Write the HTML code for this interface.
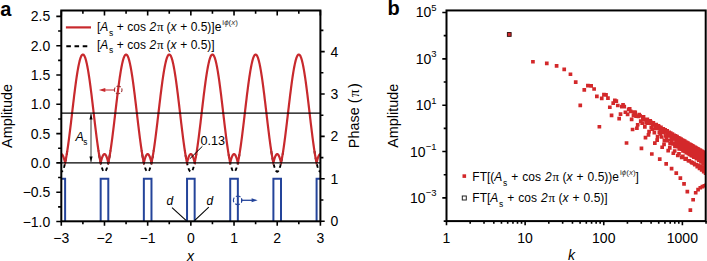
<!DOCTYPE html><html><head><meta charset="utf-8"><style>html,body{margin:0;padding:0;background:#fff;}svg{display:block;}text{font-family:'Liberation Sans', sans-serif;}</style></head><body>
<svg width="707" height="261" viewBox="0 0 707 261">
<rect width="707" height="261" fill="#fff"/>
<defs><clipPath id="ca"><rect x="61.3" y="10.5" width="259.09999999999997" height="210.8"/></clipPath><clipPath id="cb"><rect x="446.5" y="10.45" width="259.20000000000005" height="210.65"/></clipPath></defs>
<g clip-path="url(#ca)">
<path d="M55.25,150.44 L55.32,150.84 L55.38,151.24 L55.44,151.63 L55.50,152.02 L55.56,152.40 L55.62,152.78 L55.68,153.16 L55.74,153.54 L55.80,153.91 L55.86,154.28 L55.92,154.65 L55.98,155.01 L56.04,155.37 L56.10,155.73 L56.17,156.09 L56.23,156.44 L56.29,156.78 L56.35,157.13 L56.41,157.47 L56.47,157.80 L56.53,158.14 L56.59,158.47 L56.65,158.79 L56.71,159.11 L56.77,159.43 L56.83,159.75 L56.89,160.06 L56.96,160.37 L57.02,160.67 L57.08,160.97 L57.14,161.27 L57.20,161.56 L57.26,161.85 L57.32,162.14 L57.38,162.42 L57.44,162.70 L57.50,162.97 L57.56,163.24 L57.62,163.51 L57.68,163.77 L57.75,164.03 L57.81,164.28 L57.87,164.53 L57.93,164.78 L57.99,165.02 L58.05,165.26 L58.11,165.49 L58.17,165.72 L58.23,165.95 L58.29,166.17 L58.35,166.39 L58.41,166.60 L58.47,166.81 L58.54,167.01 L58.60,167.21 L58.66,167.41 L58.72,167.60 L58.78,167.79 L58.84,167.97 L58.90,168.15 L58.96,168.33 L59.02,168.50 L59.08,168.67 L59.14,168.83 L59.20,168.99 L59.26,169.14 L59.33,169.29 L59.39,169.43 L59.45,169.57 L59.51,169.71 L59.57,169.84 L59.63,169.97 L59.69,170.09 L59.75,170.21 L59.81,170.32 L59.87,170.43 L59.93,170.53 L59.99,170.63 L60.05,170.73 L60.12,170.82 L60.18,170.91 L60.24,170.99 L60.30,171.07 L60.36,171.14 L60.42,171.21 L60.48,171.27 L60.54,171.33 L60.60,171.39 L60.66,171.44 L60.72,171.48 L60.78,171.52 L60.84,171.56 L60.91,171.59 L60.97,171.62 L61.03,171.64 L61.09,171.66 L61.15,171.68 L61.21,171.68 L61.27,171.69 L61.33,171.69 L61.39,171.68 L61.45,171.68 L61.51,171.66 L61.57,171.64 L61.63,171.62 L61.69,171.59 L61.76,171.56 L61.82,171.52 L61.88,171.48 L61.94,171.44 L62.00,171.39 L62.06,171.33 L62.12,171.27 L62.18,171.21 L62.24,171.14 L62.30,171.07 L62.36,170.99 L62.42,170.91 L62.48,170.82 L62.55,170.73 L62.61,170.63 L62.67,170.53 L62.73,170.43 L62.79,170.32 L62.85,170.21 L62.91,170.09 L62.97,169.97 L63.03,169.84 L63.09,169.71 L63.15,169.57 L63.21,169.43 L63.27,169.29 L63.34,169.14 L63.40,168.99 L63.46,168.83 L63.52,168.67 L63.58,168.50 L63.64,168.33 L63.70,168.15 L63.76,167.97 L63.82,167.79 L63.88,167.60 L63.94,167.41 L64.00,167.21 L64.06,167.01 L64.13,166.81 L64.19,166.60 L64.25,166.39 L64.31,166.17 L64.37,165.95 L64.43,165.72 L64.49,165.49 L64.55,165.26 L64.61,165.02 L64.67,164.78 L64.73,164.53 L64.79,164.28 L64.85,164.03 L64.92,163.77 L64.98,163.51 L65.04,163.24 L65.10,162.97 L65.16,162.70 L65.22,162.42 L65.28,162.14 L65.34,161.85 L65.40,161.56 L65.46,161.27 L65.52,160.97 L65.58,160.67 L65.64,160.37 L65.71,160.06 L65.77,159.75 L65.83,159.43 L65.89,159.11 L65.95,158.79 L66.01,158.47 L66.07,158.14 L66.13,157.80 L66.19,157.47 L66.25,157.13 L66.31,156.78 L66.37,156.44 L66.43,156.09 L66.50,155.73 L66.56,155.37 L66.62,155.01 L66.68,154.65 L66.74,154.28 L66.80,153.91 L66.86,153.54 L66.92,153.16 L66.98,152.78 L67.04,152.40 L67.10,152.02 L67.16,151.63 L67.22,151.24 L67.28,150.84 L67.35,150.44" fill="none" stroke="#000" stroke-width="1.9" stroke-dasharray="3.7,3.0" stroke-dashoffset="6.08"/>
<path d="M98.44,150.44 L98.50,150.84 L98.56,151.24 L98.62,151.63 L98.68,152.02 L98.74,152.40 L98.80,152.78 L98.86,153.16 L98.92,153.54 L98.98,153.91 L99.05,154.28 L99.11,154.65 L99.17,155.01 L99.23,155.37 L99.29,155.73 L99.35,156.09 L99.41,156.44 L99.47,156.78 L99.53,157.13 L99.59,157.47 L99.65,157.80 L99.71,158.14 L99.77,158.47 L99.84,158.79 L99.90,159.11 L99.96,159.43 L100.02,159.75 L100.08,160.06 L100.14,160.37 L100.20,160.67 L100.26,160.97 L100.32,161.27 L100.38,161.56 L100.44,161.85 L100.50,162.14 L100.56,162.42 L100.63,162.70 L100.69,162.97 L100.75,163.24 L100.81,163.51 L100.87,163.77 L100.93,164.03 L100.99,164.28 L101.05,164.53 L101.11,164.78 L101.17,165.02 L101.23,165.26 L101.29,165.49 L101.35,165.72 L101.41,165.95 L101.48,166.17 L101.54,166.39 L101.60,166.60 L101.66,166.81 L101.72,167.01 L101.78,167.21 L101.84,167.41 L101.90,167.60 L101.96,167.79 L102.02,167.97 L102.08,168.15 L102.14,168.33 L102.20,168.50 L102.27,168.67 L102.33,168.83 L102.39,168.99 L102.45,169.14 L102.51,169.29 L102.57,169.43 L102.63,169.57 L102.69,169.71 L102.75,169.84 L102.81,169.97 L102.87,170.09 L102.93,170.21 L102.99,170.32 L103.06,170.43 L103.12,170.53 L103.18,170.63 L103.24,170.73 L103.30,170.82 L103.36,170.91 L103.42,170.99 L103.48,171.07 L103.54,171.14 L103.60,171.21 L103.66,171.27 L103.72,171.33 L103.78,171.39 L103.85,171.44 L103.91,171.48 L103.97,171.52 L104.03,171.56 L104.09,171.59 L104.15,171.62 L104.21,171.64 L104.27,171.66 L104.33,171.68 L104.39,171.68 L104.45,171.69 L104.51,171.69 L104.57,171.68 L104.64,171.68 L104.70,171.66 L104.76,171.64 L104.82,171.62 L104.88,171.59 L104.94,171.56 L105.00,171.52 L105.06,171.48 L105.12,171.44 L105.18,171.39 L105.24,171.33 L105.30,171.27 L105.36,171.21 L105.43,171.14 L105.49,171.07 L105.55,170.99 L105.61,170.91 L105.67,170.82 L105.73,170.73 L105.79,170.63 L105.85,170.53 L105.91,170.43 L105.97,170.32 L106.03,170.21 L106.09,170.09 L106.15,169.97 L106.22,169.84 L106.28,169.71 L106.34,169.57 L106.40,169.43 L106.46,169.29 L106.52,169.14 L106.58,168.99 L106.64,168.83 L106.70,168.67 L106.76,168.50 L106.82,168.33 L106.88,168.15 L106.94,167.97 L107.00,167.79 L107.07,167.60 L107.13,167.41 L107.19,167.21 L107.25,167.01 L107.31,166.81 L107.37,166.60 L107.43,166.39 L107.49,166.17 L107.55,165.95 L107.61,165.72 L107.67,165.49 L107.73,165.26 L107.79,165.02 L107.86,164.78 L107.92,164.53 L107.98,164.28 L108.04,164.03 L108.10,163.77 L108.16,163.51 L108.22,163.24 L108.28,162.97 L108.34,162.70 L108.40,162.42 L108.46,162.14 L108.52,161.85 L108.58,161.56 L108.65,161.27 L108.71,160.97 L108.77,160.67 L108.83,160.37 L108.89,160.06 L108.95,159.75 L109.01,159.43 L109.07,159.11 L109.13,158.79 L109.19,158.47 L109.25,158.14 L109.31,157.80 L109.37,157.47 L109.44,157.13 L109.50,156.78 L109.56,156.44 L109.62,156.09 L109.68,155.73 L109.74,155.37 L109.80,155.01 L109.86,154.65 L109.92,154.28 L109.98,153.91 L110.04,153.54 L110.10,153.16 L110.16,152.78 L110.23,152.40 L110.29,152.02 L110.35,151.63 L110.41,151.24 L110.47,150.84 L110.53,150.44" fill="none" stroke="#000" stroke-width="1.9" stroke-dasharray="3.7,3.0" stroke-dashoffset="2.73"/>
<path d="M141.62,150.44 L141.68,150.84 L141.74,151.24 L141.80,151.63 L141.86,152.02 L141.92,152.40 L141.99,152.78 L142.05,153.16 L142.11,153.54 L142.17,153.91 L142.23,154.28 L142.29,154.65 L142.35,155.01 L142.41,155.37 L142.47,155.73 L142.53,156.09 L142.59,156.44 L142.65,156.78 L142.71,157.13 L142.78,157.47 L142.84,157.80 L142.90,158.14 L142.96,158.47 L143.02,158.79 L143.08,159.11 L143.14,159.43 L143.20,159.75 L143.26,160.06 L143.32,160.37 L143.38,160.67 L143.44,160.97 L143.50,161.27 L143.57,161.56 L143.63,161.85 L143.69,162.14 L143.75,162.42 L143.81,162.70 L143.87,162.97 L143.93,163.24 L143.99,163.51 L144.05,163.77 L144.11,164.03 L144.17,164.28 L144.23,164.53 L144.29,164.78 L144.36,165.02 L144.42,165.26 L144.48,165.49 L144.54,165.72 L144.60,165.95 L144.66,166.17 L144.72,166.39 L144.78,166.60 L144.84,166.81 L144.90,167.01 L144.96,167.21 L145.02,167.41 L145.08,167.60 L145.15,167.79 L145.21,167.97 L145.27,168.15 L145.33,168.33 L145.39,168.50 L145.45,168.67 L145.51,168.83 L145.57,168.99 L145.63,169.14 L145.69,169.29 L145.75,169.43 L145.81,169.57 L145.87,169.71 L145.93,169.84 L146.00,169.97 L146.06,170.09 L146.12,170.21 L146.18,170.32 L146.24,170.43 L146.30,170.53 L146.36,170.63 L146.42,170.73 L146.48,170.82 L146.54,170.91 L146.60,170.99 L146.66,171.07 L146.72,171.14 L146.79,171.21 L146.85,171.27 L146.91,171.33 L146.97,171.39 L147.03,171.44 L147.09,171.48 L147.15,171.52 L147.21,171.56 L147.27,171.59 L147.33,171.62 L147.39,171.64 L147.45,171.66 L147.51,171.68 L147.58,171.68 L147.64,171.69 L147.70,171.69 L147.76,171.68 L147.82,171.68 L147.88,171.66 L147.94,171.64 L148.00,171.62 L148.06,171.59 L148.12,171.56 L148.18,171.52 L148.24,171.48 L148.30,171.44 L148.37,171.39 L148.43,171.33 L148.49,171.27 L148.55,171.21 L148.61,171.14 L148.67,171.07 L148.73,170.99 L148.79,170.91 L148.85,170.82 L148.91,170.73 L148.97,170.63 L149.03,170.53 L149.09,170.43 L149.16,170.32 L149.22,170.21 L149.28,170.09 L149.34,169.97 L149.40,169.84 L149.46,169.71 L149.52,169.57 L149.58,169.43 L149.64,169.29 L149.70,169.14 L149.76,168.99 L149.82,168.83 L149.88,168.67 L149.95,168.50 L150.01,168.33 L150.07,168.15 L150.13,167.97 L150.19,167.79 L150.25,167.60 L150.31,167.41 L150.37,167.21 L150.43,167.01 L150.49,166.81 L150.55,166.60 L150.61,166.39 L150.67,166.17 L150.74,165.95 L150.80,165.72 L150.86,165.49 L150.92,165.26 L150.98,165.02 L151.04,164.78 L151.10,164.53 L151.16,164.28 L151.22,164.03 L151.28,163.77 L151.34,163.51 L151.40,163.24 L151.46,162.97 L151.52,162.70 L151.59,162.42 L151.65,162.14 L151.71,161.85 L151.77,161.56 L151.83,161.27 L151.89,160.97 L151.95,160.67 L152.01,160.37 L152.07,160.06 L152.13,159.75 L152.19,159.43 L152.25,159.11 L152.31,158.79 L152.38,158.47 L152.44,158.14 L152.50,157.80 L152.56,157.47 L152.62,157.13 L152.68,156.78 L152.74,156.44 L152.80,156.09 L152.86,155.73 L152.92,155.37 L152.98,155.01 L153.04,154.65 L153.10,154.28 L153.17,153.91 L153.23,153.54 L153.29,153.16 L153.35,152.78 L153.41,152.40 L153.47,152.02 L153.53,151.63 L153.59,151.24 L153.65,150.84 L153.71,150.44" fill="none" stroke="#000" stroke-width="1.9" stroke-dasharray="3.7,3.0" stroke-dashoffset="2.73"/>
<path d="M184.80,150.44 L184.87,150.84 L184.93,151.24 L184.99,151.63 L185.05,152.02 L185.11,152.40 L185.17,152.78 L185.23,153.16 L185.29,153.54 L185.35,153.91 L185.41,154.28 L185.47,154.65 L185.53,155.01 L185.59,155.37 L185.65,155.73 L185.72,156.09 L185.78,156.44 L185.84,156.78 L185.90,157.13 L185.96,157.47 L186.02,157.80 L186.08,158.14 L186.14,158.47 L186.20,158.79 L186.26,159.11 L186.32,159.43 L186.38,159.75 L186.44,160.06 L186.51,160.37 L186.57,160.67 L186.63,160.97 L186.69,161.27 L186.75,161.56 L186.81,161.85 L186.87,162.14 L186.93,162.42 L186.99,162.70 L187.05,162.97 L187.11,163.24 L187.17,163.51 L187.23,163.77 L187.30,164.03 L187.36,164.28 L187.42,164.53 L187.48,164.78 L187.54,165.02 L187.60,165.26 L187.66,165.49 L187.72,165.72 L187.78,165.95 L187.84,166.17 L187.90,166.39 L187.96,166.60 L188.02,166.81 L188.09,167.01 L188.15,167.21 L188.21,167.41 L188.27,167.60 L188.33,167.79 L188.39,167.97 L188.45,168.15 L188.51,168.33 L188.57,168.50 L188.63,168.67 L188.69,168.83 L188.75,168.99 L188.81,169.14 L188.88,169.29 L188.94,169.43 L189.00,169.57 L189.06,169.71 L189.12,169.84 L189.18,169.97 L189.24,170.09 L189.30,170.21 L189.36,170.32 L189.42,170.43 L189.48,170.53 L189.54,170.63 L189.60,170.73 L189.67,170.82 L189.73,170.91 L189.79,170.99 L189.85,171.07 L189.91,171.14 L189.97,171.21 L190.03,171.27 L190.09,171.33 L190.15,171.39 L190.21,171.44 L190.27,171.48 L190.33,171.52 L190.39,171.56 L190.46,171.59 L190.52,171.62 L190.58,171.64 L190.64,171.66 L190.70,171.68 L190.76,171.68 L190.82,171.69 L190.88,171.69 L190.94,171.68 L191.00,171.68 L191.06,171.66 L191.12,171.64 L191.18,171.62 L191.24,171.59 L191.31,171.56 L191.37,171.52 L191.43,171.48 L191.49,171.44 L191.55,171.39 L191.61,171.33 L191.67,171.27 L191.73,171.21 L191.79,171.14 L191.85,171.07 L191.91,170.99 L191.97,170.91 L192.03,170.82 L192.10,170.73 L192.16,170.63 L192.22,170.53 L192.28,170.43 L192.34,170.32 L192.40,170.21 L192.46,170.09 L192.52,169.97 L192.58,169.84 L192.64,169.71 L192.70,169.57 L192.76,169.43 L192.82,169.29 L192.89,169.14 L192.95,168.99 L193.01,168.83 L193.07,168.67 L193.13,168.50 L193.19,168.33 L193.25,168.15 L193.31,167.97 L193.37,167.79 L193.43,167.60 L193.49,167.41 L193.55,167.21 L193.61,167.01 L193.68,166.81 L193.74,166.60 L193.80,166.39 L193.86,166.17 L193.92,165.95 L193.98,165.72 L194.04,165.49 L194.10,165.26 L194.16,165.02 L194.22,164.78 L194.28,164.53 L194.34,164.28 L194.40,164.03 L194.47,163.77 L194.53,163.51 L194.59,163.24 L194.65,162.97 L194.71,162.70 L194.77,162.42 L194.83,162.14 L194.89,161.85 L194.95,161.56 L195.01,161.27 L195.07,160.97 L195.13,160.67 L195.19,160.37 L195.26,160.06 L195.32,159.75 L195.38,159.43 L195.44,159.11 L195.50,158.79 L195.56,158.47 L195.62,158.14 L195.68,157.80 L195.74,157.47 L195.80,157.13 L195.86,156.78 L195.92,156.44 L195.98,156.09 L196.05,155.73 L196.11,155.37 L196.17,155.01 L196.23,154.65 L196.29,154.28 L196.35,153.91 L196.41,153.54 L196.47,153.16 L196.53,152.78 L196.59,152.40 L196.65,152.02 L196.71,151.63 L196.77,151.24 L196.83,150.84 L196.90,150.44" fill="none" stroke="#000" stroke-width="1.9" stroke-dasharray="3.7,3.0" stroke-dashoffset="1.93"/>
<path d="M227.99,150.44 L228.05,150.84 L228.11,151.24 L228.17,151.63 L228.23,152.02 L228.29,152.40 L228.35,152.78 L228.41,153.16 L228.47,153.54 L228.53,153.91 L228.60,154.28 L228.66,154.65 L228.72,155.01 L228.78,155.37 L228.84,155.73 L228.90,156.09 L228.96,156.44 L229.02,156.78 L229.08,157.13 L229.14,157.47 L229.20,157.80 L229.26,158.14 L229.32,158.47 L229.39,158.79 L229.45,159.11 L229.51,159.43 L229.57,159.75 L229.63,160.06 L229.69,160.37 L229.75,160.67 L229.81,160.97 L229.87,161.27 L229.93,161.56 L229.99,161.85 L230.05,162.14 L230.11,162.42 L230.18,162.70 L230.24,162.97 L230.30,163.24 L230.36,163.51 L230.42,163.77 L230.48,164.03 L230.54,164.28 L230.60,164.53 L230.66,164.78 L230.72,165.02 L230.78,165.26 L230.84,165.49 L230.90,165.72 L230.96,165.95 L231.03,166.17 L231.09,166.39 L231.15,166.60 L231.21,166.81 L231.27,167.01 L231.33,167.21 L231.39,167.41 L231.45,167.60 L231.51,167.79 L231.57,167.97 L231.63,168.15 L231.69,168.33 L231.75,168.50 L231.82,168.67 L231.88,168.83 L231.94,168.99 L232.00,169.14 L232.06,169.29 L232.12,169.43 L232.18,169.57 L232.24,169.71 L232.30,169.84 L232.36,169.97 L232.42,170.09 L232.48,170.21 L232.54,170.32 L232.61,170.43 L232.67,170.53 L232.73,170.63 L232.79,170.73 L232.85,170.82 L232.91,170.91 L232.97,170.99 L233.03,171.07 L233.09,171.14 L233.15,171.21 L233.21,171.27 L233.27,171.33 L233.33,171.39 L233.40,171.44 L233.46,171.48 L233.52,171.52 L233.58,171.56 L233.64,171.59 L233.70,171.62 L233.76,171.64 L233.82,171.66 L233.88,171.68 L233.94,171.68 L234.00,171.69 L234.06,171.69 L234.12,171.68 L234.19,171.68 L234.25,171.66 L234.31,171.64 L234.37,171.62 L234.43,171.59 L234.49,171.56 L234.55,171.52 L234.61,171.48 L234.67,171.44 L234.73,171.39 L234.79,171.33 L234.85,171.27 L234.91,171.21 L234.98,171.14 L235.04,171.07 L235.10,170.99 L235.16,170.91 L235.22,170.82 L235.28,170.73 L235.34,170.63 L235.40,170.53 L235.46,170.43 L235.52,170.32 L235.58,170.21 L235.64,170.09 L235.70,169.97 L235.77,169.84 L235.83,169.71 L235.89,169.57 L235.95,169.43 L236.01,169.29 L236.07,169.14 L236.13,168.99 L236.19,168.83 L236.25,168.67 L236.31,168.50 L236.37,168.33 L236.43,168.15 L236.49,167.97 L236.55,167.79 L236.62,167.60 L236.68,167.41 L236.74,167.21 L236.80,167.01 L236.86,166.81 L236.92,166.60 L236.98,166.39 L237.04,166.17 L237.10,165.95 L237.16,165.72 L237.22,165.49 L237.28,165.26 L237.34,165.02 L237.41,164.78 L237.47,164.53 L237.53,164.28 L237.59,164.03 L237.65,163.77 L237.71,163.51 L237.77,163.24 L237.83,162.97 L237.89,162.70 L237.95,162.42 L238.01,162.14 L238.07,161.85 L238.13,161.56 L238.20,161.27 L238.26,160.97 L238.32,160.67 L238.38,160.37 L238.44,160.06 L238.50,159.75 L238.56,159.43 L238.62,159.11 L238.68,158.79 L238.74,158.47 L238.80,158.14 L238.86,157.80 L238.92,157.47 L238.99,157.13 L239.05,156.78 L239.11,156.44 L239.17,156.09 L239.23,155.73 L239.29,155.37 L239.35,155.01 L239.41,154.65 L239.47,154.28 L239.53,153.91 L239.59,153.54 L239.65,153.16 L239.71,152.78 L239.78,152.40 L239.84,152.02 L239.90,151.63 L239.96,151.24 L240.02,150.84 L240.08,150.44" fill="none" stroke="#000" stroke-width="1.9" stroke-dasharray="3.7,3.0" stroke-dashoffset="2.73"/>
<path d="M271.17,150.44 L271.23,150.84 L271.29,151.24 L271.35,151.63 L271.41,152.02 L271.47,152.40 L271.54,152.78 L271.60,153.16 L271.66,153.54 L271.72,153.91 L271.78,154.28 L271.84,154.65 L271.90,155.01 L271.96,155.37 L272.02,155.73 L272.08,156.09 L272.14,156.44 L272.20,156.78 L272.26,157.13 L272.33,157.47 L272.39,157.80 L272.45,158.14 L272.51,158.47 L272.57,158.79 L272.63,159.11 L272.69,159.43 L272.75,159.75 L272.81,160.06 L272.87,160.37 L272.93,160.67 L272.99,160.97 L273.05,161.27 L273.12,161.56 L273.18,161.85 L273.24,162.14 L273.30,162.42 L273.36,162.70 L273.42,162.97 L273.48,163.24 L273.54,163.51 L273.60,163.77 L273.66,164.03 L273.72,164.28 L273.78,164.53 L273.84,164.78 L273.91,165.02 L273.97,165.26 L274.03,165.49 L274.09,165.72 L274.15,165.95 L274.21,166.17 L274.27,166.39 L274.33,166.60 L274.39,166.81 L274.45,167.01 L274.51,167.21 L274.57,167.41 L274.63,167.60 L274.70,167.79 L274.76,167.97 L274.82,168.15 L274.88,168.33 L274.94,168.50 L275.00,168.67 L275.06,168.83 L275.12,168.99 L275.18,169.14 L275.24,169.29 L275.30,169.43 L275.36,169.57 L275.42,169.71 L275.48,169.84 L275.55,169.97 L275.61,170.09 L275.67,170.21 L275.73,170.32 L275.79,170.43 L275.85,170.53 L275.91,170.63 L275.97,170.73 L276.03,170.82 L276.09,170.91 L276.15,170.99 L276.21,171.07 L276.27,171.14 L276.34,171.21 L276.40,171.27 L276.46,171.33 L276.52,171.39 L276.58,171.44 L276.64,171.48 L276.70,171.52 L276.76,171.56 L276.82,171.59 L276.88,171.62 L276.94,171.64 L277.00,171.66 L277.06,171.68 L277.13,171.68 L277.19,171.69 L277.25,171.69 L277.31,171.68 L277.37,171.68 L277.43,171.66 L277.49,171.64 L277.55,171.62 L277.61,171.59 L277.67,171.56 L277.73,171.52 L277.79,171.48 L277.85,171.44 L277.92,171.39 L277.98,171.33 L278.04,171.27 L278.10,171.21 L278.16,171.14 L278.22,171.07 L278.28,170.99 L278.34,170.91 L278.40,170.82 L278.46,170.73 L278.52,170.63 L278.58,170.53 L278.64,170.43 L278.71,170.32 L278.77,170.21 L278.83,170.09 L278.89,169.97 L278.95,169.84 L279.01,169.71 L279.07,169.57 L279.13,169.43 L279.19,169.29 L279.25,169.14 L279.31,168.99 L279.37,168.83 L279.43,168.67 L279.50,168.50 L279.56,168.33 L279.62,168.15 L279.68,167.97 L279.74,167.79 L279.80,167.60 L279.86,167.41 L279.92,167.21 L279.98,167.01 L280.04,166.81 L280.10,166.60 L280.16,166.39 L280.22,166.17 L280.29,165.95 L280.35,165.72 L280.41,165.49 L280.47,165.26 L280.53,165.02 L280.59,164.78 L280.65,164.53 L280.71,164.28 L280.77,164.03 L280.83,163.77 L280.89,163.51 L280.95,163.24 L281.01,162.97 L281.07,162.70 L281.14,162.42 L281.20,162.14 L281.26,161.85 L281.32,161.56 L281.38,161.27 L281.44,160.97 L281.50,160.67 L281.56,160.37 L281.62,160.06 L281.68,159.75 L281.74,159.43 L281.80,159.11 L281.86,158.79 L281.93,158.47 L281.99,158.14 L282.05,157.80 L282.11,157.47 L282.17,157.13 L282.23,156.78 L282.29,156.44 L282.35,156.09 L282.41,155.73 L282.47,155.37 L282.53,155.01 L282.59,154.65 L282.65,154.28 L282.72,153.91 L282.78,153.54 L282.84,153.16 L282.90,152.78 L282.96,152.40 L283.02,152.02 L283.08,151.63 L283.14,151.24 L283.20,150.84 L283.26,150.44" fill="none" stroke="#000" stroke-width="1.9" stroke-dasharray="3.7,3.0" stroke-dashoffset="6.08"/>
<path d="M314.35,150.44 L314.42,150.84 L314.48,151.24 L314.54,151.63 L314.60,152.02 L314.66,152.40 L314.72,152.78 L314.78,153.16 L314.84,153.54 L314.90,153.91 L314.96,154.28 L315.02,154.65 L315.08,155.01 L315.14,155.37 L315.20,155.73 L315.27,156.09 L315.33,156.44 L315.39,156.78 L315.45,157.13 L315.51,157.47 L315.57,157.80 L315.63,158.14 L315.69,158.47 L315.75,158.79 L315.81,159.11 L315.87,159.43 L315.93,159.75 L315.99,160.06 L316.06,160.37 L316.12,160.67 L316.18,160.97 L316.24,161.27 L316.30,161.56 L316.36,161.85 L316.42,162.14 L316.48,162.42 L316.54,162.70 L316.60,162.97 L316.66,163.24 L316.72,163.51 L316.78,163.77 L316.85,164.03 L316.91,164.28 L316.97,164.53 L317.03,164.78 L317.09,165.02 L317.15,165.26 L317.21,165.49 L317.27,165.72 L317.33,165.95 L317.39,166.17 L317.45,166.39 L317.51,166.60 L317.57,166.81 L317.64,167.01 L317.70,167.21 L317.76,167.41 L317.82,167.60 L317.88,167.79 L317.94,167.97 L318.00,168.15 L318.06,168.33 L318.12,168.50 L318.18,168.67 L318.24,168.83 L318.30,168.99 L318.36,169.14 L318.43,169.29 L318.49,169.43 L318.55,169.57 L318.61,169.71 L318.67,169.84 L318.73,169.97 L318.79,170.09 L318.85,170.21 L318.91,170.32 L318.97,170.43 L319.03,170.53 L319.09,170.63 L319.15,170.73 L319.22,170.82 L319.28,170.91 L319.34,170.99 L319.40,171.07 L319.46,171.14 L319.52,171.21 L319.58,171.27 L319.64,171.33 L319.70,171.39 L319.76,171.44 L319.82,171.48 L319.88,171.52 L319.94,171.56 L320.01,171.59 L320.07,171.62 L320.13,171.64 L320.19,171.66 L320.25,171.68 L320.31,171.68 L320.37,171.69 L320.43,171.69 L320.49,171.68 L320.55,171.68 L320.61,171.66 L320.67,171.64 L320.73,171.62 L320.79,171.59 L320.86,171.56 L320.92,171.52 L320.98,171.48 L321.04,171.44 L321.10,171.39 L321.16,171.33 L321.22,171.27 L321.28,171.21 L321.34,171.14 L321.40,171.07 L321.46,170.99 L321.52,170.91 L321.58,170.82 L321.65,170.73 L321.71,170.63 L321.77,170.53 L321.83,170.43 L321.89,170.32 L321.95,170.21 L322.01,170.09 L322.07,169.97 L322.13,169.84 L322.19,169.71 L322.25,169.57 L322.31,169.43 L322.37,169.29 L322.44,169.14 L322.50,168.99 L322.56,168.83 L322.62,168.67 L322.68,168.50 L322.74,168.33 L322.80,168.15 L322.86,167.97 L322.92,167.79 L322.98,167.60 L323.04,167.41 L323.10,167.21 L323.16,167.01 L323.23,166.81 L323.29,166.60 L323.35,166.39 L323.41,166.17 L323.47,165.95 L323.53,165.72 L323.59,165.49 L323.65,165.26 L323.71,165.02 L323.77,164.78 L323.83,164.53 L323.89,164.28 L323.95,164.03 L324.02,163.77 L324.08,163.51 L324.14,163.24 L324.20,162.97 L324.26,162.70 L324.32,162.42 L324.38,162.14 L324.44,161.85 L324.50,161.56 L324.56,161.27 L324.62,160.97 L324.68,160.67 L324.74,160.37 L324.81,160.06 L324.87,159.75 L324.93,159.43 L324.99,159.11 L325.05,158.79 L325.11,158.47 L325.17,158.14 L325.23,157.80 L325.29,157.47 L325.35,157.13 L325.41,156.78 L325.47,156.44 L325.53,156.09 L325.60,155.73 L325.66,155.37 L325.72,155.01 L325.78,154.65 L325.84,154.28 L325.90,153.91 L325.96,153.54 L326.02,153.16 L326.08,152.78 L326.14,152.40 L326.20,152.02 L326.26,151.63 L326.32,151.24 L326.38,150.84 L326.45,150.44" fill="none" stroke="#000" stroke-width="1.9" stroke-dasharray="3.7,3.0" stroke-dashoffset="6.08"/>
<path d="M61.30,154.11 L61.52,154.14 L61.73,154.23 L61.95,154.37 L62.16,154.57 L62.38,154.83 L62.60,155.15 L62.81,155.52 L63.03,155.95 L63.24,156.44 L63.46,156.98 L63.68,157.57 L63.89,158.23 L64.11,158.93 L64.32,159.69 L64.54,160.50 L64.75,161.36 L64.97,162.27 L65.19,162.57 L65.40,161.56 L65.62,160.50 L65.83,159.39 L66.05,158.24 L66.27,157.05 L66.48,155.81 L66.70,154.53 L66.91,153.20 L67.13,151.84 L67.35,150.44 L67.56,149.01 L67.78,147.53 L67.99,146.03 L68.21,144.49 L68.43,142.92 L68.64,141.32 L68.86,139.69 L69.07,138.04 L69.29,136.36 L69.50,134.66 L69.72,132.94 L69.94,131.20 L70.15,129.44 L70.37,127.66 L70.58,125.87 L70.80,124.07 L71.02,122.26 L71.23,120.43 L71.45,118.60 L71.66,116.77 L71.88,114.93 L72.10,113.09 L72.31,111.25 L72.53,109.41 L72.74,107.58 L72.96,105.75 L73.18,103.92 L73.39,102.11 L73.61,100.31 L73.82,98.52 L74.04,96.74 L74.25,94.98 L74.47,93.24 L74.69,91.52 L74.90,89.82 L75.12,88.14 L75.33,86.49 L75.55,84.86 L75.77,83.26 L75.98,81.69 L76.20,80.15 L76.41,78.65 L76.63,77.17 L76.85,75.74 L77.06,74.34 L77.28,72.98 L77.49,71.65 L77.71,70.37 L77.93,69.13 L78.14,67.94 L78.36,66.79 L78.57,65.68 L78.79,64.62 L79.01,63.61 L79.22,62.65 L79.44,61.74 L79.65,60.88 L79.87,60.07 L80.08,59.31 L80.30,58.61 L80.52,57.95 L80.73,57.36 L80.95,56.82 L81.16,56.33 L81.38,55.90 L81.60,55.53 L81.81,55.21 L82.03,54.95 L82.24,54.75 L82.46,54.61 L82.68,54.52 L82.89,54.49 L83.11,54.52 L83.32,54.61 L83.54,54.75 L83.76,54.95 L83.97,55.21 L84.19,55.53 L84.40,55.90 L84.62,56.33 L84.83,56.82 L85.05,57.36 L85.27,57.95 L85.48,58.61 L85.70,59.31 L85.91,60.07 L86.13,60.88 L86.35,61.74 L86.56,62.65 L86.78,63.61 L86.99,64.62 L87.21,65.68 L87.43,66.79 L87.64,67.94 L87.86,69.13 L88.07,70.37 L88.29,71.65 L88.51,72.98 L88.72,74.34 L88.94,75.74 L89.15,77.17 L89.37,78.65 L89.59,80.15 L89.80,81.69 L90.02,83.26 L90.23,84.86 L90.45,86.49 L90.66,88.14 L90.88,89.82 L91.10,91.52 L91.31,93.24 L91.53,94.98 L91.74,96.74 L91.96,98.52 L92.18,100.31 L92.39,102.11 L92.61,103.92 L92.82,105.75 L93.04,107.58 L93.26,109.41 L93.47,111.25 L93.69,113.09 L93.90,114.93 L94.12,116.77 L94.34,118.60 L94.55,120.43 L94.77,122.26 L94.98,124.07 L95.20,125.87 L95.41,127.66 L95.63,129.44 L95.85,131.20 L96.06,132.94 L96.28,134.66 L96.49,136.36 L96.71,138.04 L96.93,139.69 L97.14,141.32 L97.36,142.92 L97.57,144.49 L97.79,146.03 L98.01,147.53 L98.22,149.01 L98.44,150.44 L98.65,151.84 L98.87,153.20 L99.09,154.53 L99.30,155.81 L99.52,157.05 L99.73,158.24 L99.95,159.39 L100.16,160.50 L100.38,161.56 L100.60,162.57 L100.81,162.27 L101.03,161.36 L101.24,160.50 L101.46,159.69 L101.68,158.93 L101.89,158.23 L102.11,157.57 L102.32,156.98 L102.54,156.44 L102.76,155.95 L102.97,155.52 L103.19,155.15 L103.40,154.83 L103.62,154.57 L103.84,154.37 L104.05,154.23 L104.27,154.14 L104.48,154.11 L104.70,154.14 L104.92,154.23 L105.13,154.37 L105.35,154.57 L105.56,154.83 L105.78,155.15 L105.99,155.52 L106.21,155.95 L106.43,156.44 L106.64,156.98 L106.86,157.57 L107.07,158.23 L107.29,158.93 L107.51,159.69 L107.72,160.50 L107.94,161.36 L108.15,162.27 L108.37,162.57 L108.59,161.56 L108.80,160.50 L109.02,159.39 L109.23,158.24 L109.45,157.05 L109.67,155.81 L109.88,154.53 L110.10,153.20 L110.31,151.84 L110.53,150.44 L110.74,149.01 L110.96,147.53 L111.18,146.03 L111.39,144.49 L111.61,142.92 L111.82,141.32 L112.04,139.69 L112.26,138.04 L112.47,136.36 L112.69,134.66 L112.90,132.94 L113.12,131.20 L113.34,129.44 L113.55,127.66 L113.77,125.87 L113.98,124.07 L114.20,122.26 L114.42,120.43 L114.63,118.60 L114.85,116.77 L115.06,114.93 L115.28,113.09 L115.50,111.25 L115.71,109.41 L115.93,107.58 L116.14,105.75 L116.36,103.92 L116.57,102.11 L116.79,100.31 L117.01,98.52 L117.22,96.74 L117.44,94.98 L117.65,93.24 L117.87,91.52 L118.09,89.82 L118.30,88.14 L118.52,86.49 L118.73,84.86 L118.95,83.26 L119.17,81.69 L119.38,80.15 L119.60,78.65 L119.81,77.17 L120.03,75.74 L120.25,74.34 L120.46,72.98 L120.68,71.65 L120.89,70.37 L121.11,69.13 L121.32,67.94 L121.54,66.79 L121.76,65.68 L121.97,64.62 L122.19,63.61 L122.40,62.65 L122.62,61.74 L122.84,60.88 L123.05,60.07 L123.27,59.31 L123.48,58.61 L123.70,57.95 L123.92,57.36 L124.13,56.82 L124.35,56.33 L124.56,55.90 L124.78,55.53 L125.00,55.21 L125.21,54.95 L125.43,54.75 L125.64,54.61 L125.86,54.52 L126.07,54.49 L126.29,54.52 L126.51,54.61 L126.72,54.75 L126.94,54.95 L127.15,55.21 L127.37,55.53 L127.59,55.90 L127.80,56.33 L128.02,56.82 L128.23,57.36 L128.45,57.95 L128.67,58.61 L128.88,59.31 L129.10,60.07 L129.31,60.88 L129.53,61.74 L129.75,62.65 L129.96,63.61 L130.18,64.62 L130.39,65.68 L130.61,66.79 L130.83,67.94 L131.04,69.13 L131.26,70.37 L131.47,71.65 L131.69,72.98 L131.90,74.34 L132.12,75.74 L132.34,77.17 L132.55,78.65 L132.77,80.15 L132.98,81.69 L133.20,83.26 L133.42,84.86 L133.63,86.49 L133.85,88.14 L134.06,89.82 L134.28,91.52 L134.50,93.24 L134.71,94.98 L134.93,96.74 L135.14,98.52 L135.36,100.31 L135.58,102.11 L135.79,103.92 L136.01,105.75 L136.22,107.58 L136.44,109.41 L136.65,111.25 L136.87,113.09 L137.09,114.93 L137.30,116.77 L137.52,118.60 L137.73,120.43 L137.95,122.26 L138.17,124.07 L138.38,125.87 L138.60,127.66 L138.81,129.44 L139.03,131.20 L139.25,132.94 L139.46,134.66 L139.68,136.36 L139.89,138.04 L140.11,139.69 L140.33,141.32 L140.54,142.92 L140.76,144.49 L140.97,146.03 L141.19,147.53 L141.41,149.01 L141.62,150.44 L141.84,151.84 L142.05,153.20 L142.27,154.53 L142.48,155.81 L142.70,157.05 L142.92,158.24 L143.13,159.39 L143.35,160.50 L143.56,161.56 L143.78,162.57 L144.00,162.27 L144.21,161.36 L144.43,160.50 L144.64,159.69 L144.86,158.93 L145.08,158.23 L145.29,157.57 L145.51,156.98 L145.72,156.44 L145.94,155.95 L146.16,155.52 L146.37,155.15 L146.59,154.83 L146.80,154.57 L147.02,154.37 L147.23,154.23 L147.45,154.14 L147.67,154.11 L147.88,154.14 L148.10,154.23 L148.31,154.37 L148.53,154.57 L148.75,154.83 L148.96,155.15 L149.18,155.52 L149.39,155.95 L149.61,156.44 L149.83,156.98 L150.04,157.57 L150.26,158.23 L150.47,158.93 L150.69,159.69 L150.91,160.50 L151.12,161.36 L151.34,162.27 L151.55,162.57 L151.77,161.56 L151.98,160.50 L152.20,159.39 L152.42,158.24 L152.63,157.05 L152.85,155.81 L153.06,154.53 L153.28,153.20 L153.50,151.84 L153.71,150.44 L153.93,149.01 L154.14,147.53 L154.36,146.03 L154.58,144.49 L154.79,142.92 L155.01,141.32 L155.22,139.69 L155.44,138.04 L155.66,136.36 L155.87,134.66 L156.09,132.94 L156.30,131.20 L156.52,129.44 L156.74,127.66 L156.95,125.87 L157.17,124.07 L157.38,122.26 L157.60,120.43 L157.81,118.60 L158.03,116.77 L158.25,114.93 L158.46,113.09 L158.68,111.25 L158.89,109.41 L159.11,107.58 L159.33,105.75 L159.54,103.92 L159.76,102.11 L159.97,100.31 L160.19,98.52 L160.41,96.74 L160.62,94.98 L160.84,93.24 L161.05,91.52 L161.27,89.82 L161.49,88.14 L161.70,86.49 L161.92,84.86 L162.13,83.26 L162.35,81.69 L162.56,80.15 L162.78,78.65 L163.00,77.17 L163.21,75.74 L163.43,74.34 L163.64,72.98 L163.86,71.65 L164.08,70.37 L164.29,69.13 L164.51,67.94 L164.72,66.79 L164.94,65.68 L165.16,64.62 L165.37,63.61 L165.59,62.65 L165.80,61.74 L166.02,60.88 L166.24,60.07 L166.45,59.31 L166.67,58.61 L166.88,57.95 L167.10,57.36 L167.32,56.82 L167.53,56.33 L167.75,55.90 L167.96,55.53 L168.18,55.21 L168.39,54.95 L168.61,54.75 L168.83,54.61 L169.04,54.52 L169.26,54.49 L169.47,54.52 L169.69,54.61 L169.91,54.75 L170.12,54.95 L170.34,55.21 L170.55,55.53 L170.77,55.90 L170.99,56.33 L171.20,56.82 L171.42,57.36 L171.63,57.95 L171.85,58.61 L172.07,59.31 L172.28,60.07 L172.50,60.88 L172.71,61.74 L172.93,62.65 L173.14,63.61 L173.36,64.62 L173.58,65.68 L173.79,66.79 L174.01,67.94 L174.22,69.13 L174.44,70.37 L174.66,71.65 L174.87,72.98 L175.09,74.34 L175.30,75.74 L175.52,77.17 L175.74,78.65 L175.95,80.15 L176.17,81.69 L176.38,83.26 L176.60,84.86 L176.82,86.49 L177.03,88.14 L177.25,89.82 L177.46,91.52 L177.68,93.24 L177.89,94.98 L178.11,96.74 L178.33,98.52 L178.54,100.31 L178.76,102.11 L178.97,103.92 L179.19,105.75 L179.41,107.58 L179.62,109.41 L179.84,111.25 L180.05,113.09 L180.27,114.93 L180.49,116.77 L180.70,118.60 L180.92,120.43 L181.13,122.26 L181.35,124.07 L181.57,125.87 L181.78,127.66 L182.00,129.44 L182.21,131.20 L182.43,132.94 L182.65,134.66 L182.86,136.36 L183.08,138.04 L183.29,139.69 L183.51,141.32 L183.72,142.92 L183.94,144.49 L184.16,146.03 L184.37,147.53 L184.59,149.01 L184.80,150.44 L185.02,151.84 L185.24,153.20 L185.45,154.53 L185.67,155.81 L185.88,157.05 L186.10,158.24 L186.32,159.39 L186.53,160.50 L186.75,161.56 L186.96,162.57 L187.18,162.27 L187.40,161.36 L187.61,160.50 L187.83,159.69 L188.04,158.93 L188.26,158.23 L188.47,157.57 L188.69,156.98 L188.91,156.44 L189.12,155.95 L189.34,155.52 L189.55,155.15 L189.77,154.83 L189.99,154.57 L190.20,154.37 L190.42,154.23 L190.63,154.14 L190.85,154.11 L191.07,154.14 L191.28,154.23 L191.50,154.37 L191.71,154.57 L191.93,154.83 L192.15,155.15 L192.36,155.52 L192.58,155.95 L192.79,156.44 L193.01,156.98 L193.23,157.57 L193.44,158.23 L193.66,158.93 L193.87,159.69 L194.09,160.50 L194.30,161.36 L194.52,162.27 L194.74,162.57 L194.95,161.56 L195.17,160.50 L195.38,159.39 L195.60,158.24 L195.82,157.05 L196.03,155.81 L196.25,154.53 L196.46,153.20 L196.68,151.84 L196.90,150.44 L197.11,149.01 L197.33,147.53 L197.54,146.03 L197.76,144.49 L197.98,142.92 L198.19,141.32 L198.41,139.69 L198.62,138.04 L198.84,136.36 L199.05,134.66 L199.27,132.94 L199.49,131.20 L199.70,129.44 L199.92,127.66 L200.13,125.87 L200.35,124.07 L200.57,122.26 L200.78,120.43 L201.00,118.60 L201.21,116.77 L201.43,114.93 L201.65,113.09 L201.86,111.25 L202.08,109.41 L202.29,107.58 L202.51,105.75 L202.73,103.92 L202.94,102.11 L203.16,100.31 L203.37,98.52 L203.59,96.74 L203.81,94.98 L204.02,93.24 L204.24,91.52 L204.45,89.82 L204.67,88.14 L204.88,86.49 L205.10,84.86 L205.32,83.26 L205.53,81.69 L205.75,80.15 L205.96,78.65 L206.18,77.17 L206.40,75.74 L206.61,74.34 L206.83,72.98 L207.04,71.65 L207.26,70.37 L207.48,69.13 L207.69,67.94 L207.91,66.79 L208.12,65.68 L208.34,64.62 L208.56,63.61 L208.77,62.65 L208.99,61.74 L209.20,60.88 L209.42,60.07 L209.63,59.31 L209.85,58.61 L210.07,57.95 L210.28,57.36 L210.50,56.82 L210.71,56.33 L210.93,55.90 L211.15,55.53 L211.36,55.21 L211.58,54.95 L211.79,54.75 L212.01,54.61 L212.23,54.52 L212.44,54.49 L212.66,54.52 L212.87,54.61 L213.09,54.75 L213.31,54.95 L213.52,55.21 L213.74,55.53 L213.95,55.90 L214.17,56.33 L214.38,56.82 L214.60,57.36 L214.82,57.95 L215.03,58.61 L215.25,59.31 L215.46,60.07 L215.68,60.88 L215.90,61.74 L216.11,62.65 L216.33,63.61 L216.54,64.62 L216.76,65.68 L216.98,66.79 L217.19,67.94 L217.41,69.13 L217.62,70.37 L217.84,71.65 L218.06,72.98 L218.27,74.34 L218.49,75.74 L218.70,77.17 L218.92,78.65 L219.14,80.15 L219.35,81.69 L219.57,83.26 L219.78,84.86 L220.00,86.49 L220.21,88.14 L220.43,89.82 L220.65,91.52 L220.86,93.24 L221.08,94.98 L221.29,96.74 L221.51,98.52 L221.73,100.31 L221.94,102.11 L222.16,103.92 L222.37,105.75 L222.59,107.58 L222.81,109.41 L223.02,111.25 L223.24,113.09 L223.45,114.93 L223.67,116.77 L223.89,118.60 L224.10,120.43 L224.32,122.26 L224.53,124.07 L224.75,125.87 L224.96,127.66 L225.18,129.44 L225.40,131.20 L225.61,132.94 L225.83,134.66 L226.04,136.36 L226.26,138.04 L226.48,139.69 L226.69,141.32 L226.91,142.92 L227.12,144.49 L227.34,146.03 L227.56,147.53 L227.77,149.01 L227.99,150.44 L228.20,151.84 L228.42,153.20 L228.64,154.53 L228.85,155.81 L229.07,157.05 L229.28,158.24 L229.50,159.39 L229.71,160.50 L229.93,161.56 L230.15,162.57 L230.36,162.27 L230.58,161.36 L230.79,160.50 L231.01,159.69 L231.23,158.93 L231.44,158.23 L231.66,157.57 L231.87,156.98 L232.09,156.44 L232.31,155.95 L232.52,155.52 L232.74,155.15 L232.95,154.83 L233.17,154.57 L233.39,154.37 L233.60,154.23 L233.82,154.14 L234.03,154.11 L234.25,154.14 L234.47,154.23 L234.68,154.37 L234.90,154.57 L235.11,154.83 L235.33,155.15 L235.54,155.52 L235.76,155.95 L235.98,156.44 L236.19,156.98 L236.41,157.57 L236.62,158.23 L236.84,158.93 L237.06,159.69 L237.27,160.50 L237.49,161.36 L237.70,162.27 L237.92,162.57 L238.14,161.56 L238.35,160.50 L238.57,159.39 L238.78,158.24 L239.00,157.05 L239.22,155.81 L239.43,154.53 L239.65,153.20 L239.86,151.84 L240.08,150.44 L240.29,149.01 L240.51,147.53 L240.73,146.03 L240.94,144.49 L241.16,142.92 L241.37,141.32 L241.59,139.69 L241.81,138.04 L242.02,136.36 L242.24,134.66 L242.45,132.94 L242.67,131.20 L242.89,129.44 L243.10,127.66 L243.32,125.87 L243.53,124.07 L243.75,122.26 L243.97,120.43 L244.18,118.60 L244.40,116.77 L244.61,114.93 L244.83,113.09 L245.05,111.25 L245.26,109.41 L245.48,107.58 L245.69,105.75 L245.91,103.92 L246.12,102.11 L246.34,100.31 L246.56,98.52 L246.77,96.74 L246.99,94.98 L247.20,93.24 L247.42,91.52 L247.64,89.82 L247.85,88.14 L248.07,86.49 L248.28,84.86 L248.50,83.26 L248.72,81.69 L248.93,80.15 L249.15,78.65 L249.36,77.17 L249.58,75.74 L249.80,74.34 L250.01,72.98 L250.23,71.65 L250.44,70.37 L250.66,69.13 L250.87,67.94 L251.09,66.79 L251.31,65.68 L251.52,64.62 L251.74,63.61 L251.95,62.65 L252.17,61.74 L252.39,60.88 L252.60,60.07 L252.82,59.31 L253.03,58.61 L253.25,57.95 L253.47,57.36 L253.68,56.82 L253.90,56.33 L254.11,55.90 L254.33,55.53 L254.55,55.21 L254.76,54.95 L254.98,54.75 L255.19,54.61 L255.41,54.52 L255.62,54.49 L255.84,54.52 L256.06,54.61 L256.27,54.75 L256.49,54.95 L256.70,55.21 L256.92,55.53 L257.14,55.90 L257.35,56.33 L257.57,56.82 L257.78,57.36 L258.00,57.95 L258.22,58.61 L258.43,59.31 L258.65,60.07 L258.86,60.88 L259.08,61.74 L259.30,62.65 L259.51,63.61 L259.73,64.62 L259.94,65.68 L260.16,66.79 L260.38,67.94 L260.59,69.13 L260.81,70.37 L261.02,71.65 L261.24,72.98 L261.45,74.34 L261.67,75.74 L261.89,77.17 L262.10,78.65 L262.32,80.15 L262.53,81.69 L262.75,83.26 L262.97,84.86 L263.18,86.49 L263.40,88.14 L263.61,89.82 L263.83,91.52 L264.05,93.24 L264.26,94.98 L264.48,96.74 L264.69,98.52 L264.91,100.31 L265.13,102.11 L265.34,103.92 L265.56,105.75 L265.77,107.58 L265.99,109.41 L266.20,111.25 L266.42,113.09 L266.64,114.93 L266.85,116.77 L267.07,118.60 L267.28,120.43 L267.50,122.26 L267.72,124.07 L267.93,125.87 L268.15,127.66 L268.36,129.44 L268.58,131.20 L268.80,132.94 L269.01,134.66 L269.23,136.36 L269.44,138.04 L269.66,139.69 L269.88,141.32 L270.09,142.92 L270.31,144.49 L270.52,146.03 L270.74,147.53 L270.96,149.01 L271.17,150.44 L271.39,151.84 L271.60,153.20 L271.82,154.53 L272.03,155.81 L272.25,157.05 L272.47,158.24 L272.68,159.39 L272.90,160.50 L273.11,161.56 L273.33,162.57 L273.55,162.27 L273.76,161.36 L273.98,160.50 L274.19,159.69 L274.41,158.93 L274.63,158.23 L274.84,157.57 L275.06,156.98 L275.27,156.44 L275.49,155.95 L275.71,155.52 L275.92,155.15 L276.14,154.83 L276.35,154.57 L276.57,154.37 L276.78,154.23 L277.00,154.14 L277.22,154.11 L277.43,154.14 L277.65,154.23 L277.86,154.37 L278.08,154.57 L278.30,154.83 L278.51,155.15 L278.73,155.52 L278.94,155.95 L279.16,156.44 L279.38,156.98 L279.59,157.57 L279.81,158.23 L280.02,158.93 L280.24,159.69 L280.46,160.50 L280.67,161.36 L280.89,162.27 L281.10,162.57 L281.32,161.56 L281.53,160.50 L281.75,159.39 L281.97,158.24 L282.18,157.05 L282.40,155.81 L282.61,154.53 L282.83,153.20 L283.05,151.84 L283.26,150.44 L283.48,149.01 L283.69,147.53 L283.91,146.03 L284.13,144.49 L284.34,142.92 L284.56,141.32 L284.77,139.69 L284.99,138.04 L285.21,136.36 L285.42,134.66 L285.64,132.94 L285.85,131.20 L286.07,129.44 L286.29,127.66 L286.50,125.87 L286.72,124.07 L286.93,122.26 L287.15,120.43 L287.36,118.60 L287.58,116.77 L287.80,114.93 L288.01,113.09 L288.23,111.25 L288.44,109.41 L288.66,107.58 L288.88,105.75 L289.09,103.92 L289.31,102.11 L289.52,100.31 L289.74,98.52 L289.96,96.74 L290.17,94.98 L290.39,93.24 L290.60,91.52 L290.82,89.82 L291.04,88.14 L291.25,86.49 L291.47,84.86 L291.68,83.26 L291.90,81.69 L292.11,80.15 L292.33,78.65 L292.55,77.17 L292.76,75.74 L292.98,74.34 L293.19,72.98 L293.41,71.65 L293.63,70.37 L293.84,69.13 L294.06,67.94 L294.27,66.79 L294.49,65.68 L294.71,64.62 L294.92,63.61 L295.14,62.65 L295.35,61.74 L295.57,60.88 L295.79,60.07 L296.00,59.31 L296.22,58.61 L296.43,57.95 L296.65,57.36 L296.87,56.82 L297.08,56.33 L297.30,55.90 L297.51,55.53 L297.73,55.21 L297.94,54.95 L298.16,54.75 L298.38,54.61 L298.59,54.52 L298.81,54.49 L299.02,54.52 L299.24,54.61 L299.46,54.75 L299.67,54.95 L299.89,55.21 L300.10,55.53 L300.32,55.90 L300.54,56.33 L300.75,56.82 L300.97,57.36 L301.18,57.95 L301.40,58.61 L301.62,59.31 L301.83,60.07 L302.05,60.88 L302.26,61.74 L302.48,62.65 L302.69,63.61 L302.91,64.62 L303.13,65.68 L303.34,66.79 L303.56,67.94 L303.77,69.13 L303.99,70.37 L304.21,71.65 L304.42,72.98 L304.64,74.34 L304.85,75.74 L305.07,77.17 L305.29,78.65 L305.50,80.15 L305.72,81.69 L305.93,83.26 L306.15,84.86 L306.37,86.49 L306.58,88.14 L306.80,89.82 L307.01,91.52 L307.23,93.24 L307.44,94.98 L307.66,96.74 L307.88,98.52 L308.09,100.31 L308.31,102.11 L308.52,103.92 L308.74,105.75 L308.96,107.58 L309.17,109.41 L309.39,111.25 L309.60,113.09 L309.82,114.93 L310.04,116.77 L310.25,118.60 L310.47,120.43 L310.68,122.26 L310.90,124.07 L311.12,125.87 L311.33,127.66 L311.55,129.44 L311.76,131.20 L311.98,132.94 L312.20,134.66 L312.41,136.36 L312.63,138.04 L312.84,139.69 L313.06,141.32 L313.27,142.92 L313.49,144.49 L313.71,146.03 L313.92,147.53 L314.14,149.01 L314.35,150.44 L314.57,151.84 L314.79,153.20 L315.00,154.53 L315.22,155.81 L315.43,157.05 L315.65,158.24 L315.87,159.39 L316.08,160.50 L316.30,161.56 L316.51,162.57 L316.73,162.27 L316.95,161.36 L317.16,160.50 L317.38,159.69 L317.59,158.93 L317.81,158.23 L318.02,157.57 L318.24,156.98 L318.46,156.44 L318.67,155.95 L318.89,155.52 L319.10,155.15 L319.32,154.83 L319.54,154.57 L319.75,154.37 L319.97,154.23 L320.18,154.14 L320.40,154.11" fill="none" stroke="#c8292d" stroke-width="2.2"/>
<path d="M57.49,221.3 L57.49,178.80 L65.11,178.80 L65.11,221.3 M100.67,221.3 L100.67,178.80 L108.30,178.80 L108.30,221.3 M143.85,221.3 L143.85,178.80 L151.48,178.80 L151.48,221.3 M187.04,221.3 L187.04,178.80 L194.66,178.80 L194.66,221.3 M230.22,221.3 L230.22,178.80 L237.85,178.80 L237.85,221.3 M273.40,221.3 L273.40,178.80 L281.03,178.80 L281.03,221.3 M316.59,221.3 L316.59,178.80 L324.21,178.80 L324.21,221.3" fill="none" stroke="#24449a" stroke-width="2"/>
</g>
<line x1="61.3" y1="162.90" x2="320.4" y2="162.90" stroke="#000" stroke-width="1.3"/>
<line x1="61.3" y1="113.09" x2="320.4" y2="113.09" stroke="#000" stroke-width="1.3"/>
<rect x="61.3" y="10.5" width="259.09999999999997" height="210.8" fill="none" stroke="#000" stroke-width="2"/>
<path d="M61.30,221.3 L61.30,225.8 M61.30,10.5 L61.30,15.4 M82.89,221.3 L82.89,224.20000000000002 M82.89,10.5 L82.89,13.7 M104.48,221.3 L104.48,225.8 M104.48,10.5 L104.48,15.4 M126.07,221.3 L126.07,224.20000000000002 M126.07,10.5 L126.07,13.7 M147.67,221.3 L147.67,225.8 M147.67,10.5 L147.67,15.4 M169.26,221.3 L169.26,224.20000000000002 M169.26,10.5 L169.26,13.7 M190.85,221.3 L190.85,225.8 M190.85,10.5 L190.85,15.4 M212.44,221.3 L212.44,224.20000000000002 M212.44,10.5 L212.44,13.7 M234.03,221.3 L234.03,225.8 M234.03,10.5 L234.03,15.4 M255.62,221.3 L255.62,224.20000000000002 M255.62,10.5 L255.62,13.7 M277.22,221.3 L277.22,225.8 M277.22,10.5 L277.22,15.4 M298.81,221.3 L298.81,224.20000000000002 M298.81,10.5 L298.81,13.7 M320.40,221.3 L320.40,225.8 M320.40,10.5 L320.40,15.4 M61.3 ,221.50 L56.30,221.50 M61.3 ,206.85 L58.10,206.85 M61.3 ,192.20 L56.30,192.20 M61.3 ,177.55 L58.10,177.55 M61.3 ,162.90 L56.30,162.90 M61.3 ,148.25 L58.10,148.25 M61.3 ,133.60 L56.30,133.60 M61.3 ,118.95 L58.10,118.95 M61.3 ,104.30 L56.30,104.30 M61.3 ,89.65 L58.10,89.65 M61.3 ,75.00 L56.30,75.00 M61.3 ,60.35 L58.10,60.35 M61.3 ,45.70 L56.30,45.70 M61.3 ,31.05 L58.10,31.05 M61.3 ,16.40 L56.30,16.40 M320.4,221.20 L324.70,221.20 M320.4,200.00 L323.40,200.00 M320.4,178.80 L324.70,178.80 M320.4,157.60 L323.40,157.60 M320.4,136.40 L324.70,136.40 M320.4,115.20 L323.40,115.20 M320.4,94.00 L324.70,94.00 M320.4,72.80 L323.40,72.80 M320.4,51.60 L324.70,51.60 M320.4,30.40 L323.40,30.40" stroke="#000" stroke-width="1.6" fill="none"/>
<text x="50.3" y="21.40" font-size="14" text-anchor="end">2.5</text>
<text x="50.3" y="50.70" font-size="14" text-anchor="end">2.0</text>
<text x="50.3" y="80.00" font-size="14" text-anchor="end">1.5</text>
<text x="50.3" y="109.30" font-size="14" text-anchor="end">1.0</text>
<text x="50.3" y="138.60" font-size="14" text-anchor="end">0.5</text>
<text x="50.3" y="167.90" font-size="14" text-anchor="end">0.0</text>
<text x="50.3" y="197.20" font-size="14" text-anchor="end">−0.5</text>
<text x="50.3" y="226.50" font-size="14" text-anchor="end">−1.0</text>
<text x="330.5" y="226.20" font-size="14">0</text>
<text x="330.5" y="183.80" font-size="14">1</text>
<text x="330.5" y="141.40" font-size="14">2</text>
<text x="330.5" y="99.00" font-size="14">3</text>
<text x="330.5" y="56.60" font-size="14">4</text>
<text x="61.30" y="242.6" font-size="14" text-anchor="middle">−3</text>
<text x="104.48" y="242.6" font-size="14" text-anchor="middle">−2</text>
<text x="147.67" y="242.6" font-size="14" text-anchor="middle">−1</text>
<text x="190.85" y="242.6" font-size="14" text-anchor="middle">0</text>
<text x="234.03" y="242.6" font-size="14" text-anchor="middle">1</text>
<text x="277.22" y="242.6" font-size="14" text-anchor="middle">2</text>
<text x="320.40" y="242.6" font-size="14" text-anchor="middle">3</text>
<text x="190.6" y="260.5" font-size="14" font-style="italic" text-anchor="middle">x</text>
<text transform="translate(11.9,115.9) rotate(-90)" font-size="14.4" text-anchor="middle">Amplitude</text>
<text transform="translate(359.4,115.65) rotate(-90)" font-size="14.4" text-anchor="middle">Phase (<tspan font-family="Liberation Serif" font-size="15" dx="1.5">π</tspan><tspan dx="1.5">)</tspan></text>
<text x="0.3" y="15.6" font-size="20" font-weight="bold">a</text>
<line x1="65.9" y1="27.4" x2="91" y2="27.4" stroke="#c8292d" stroke-width="2.2"/>
<line x1="66.3" y1="46.3" x2="87.3" y2="46.3" stroke="#000" stroke-width="2" stroke-dasharray="4.6,3.6"/>
<text x="97" y="30.7" font-size="12" word-spacing="0.2">[<tspan font-style="italic">A</tspan><tspan font-size="8.5" dx="0.6" dy="4.8">s</tspan><tspan dy="-4.8"> + cos </tspan><tspan font-style="italic">2</tspan><tspan font-family="Liberation Serif" font-size="13" dx="0.8">π</tspan><tspan dx="-0.5"> (</tspan><tspan font-style="italic">x</tspan> + 0.5)]e<tspan font-size="8" dx="1" dy="-5.5" fill="#333">i<tspan font-style="italic">ϕ</tspan>(<tspan font-style="italic">x</tspan>)</tspan></text>
<text x="97" y="48.6" font-size="12" word-spacing="0.2">[<tspan font-style="italic">A</tspan><tspan font-size="8.5" dx="0.6" dy="4.8">s</tspan><tspan dy="-4.8"> + cos </tspan><tspan font-style="italic">2</tspan><tspan font-family="Liberation Serif" font-size="13" dx="0.8">π</tspan><tspan dx="-0.5"> (</tspan><tspan font-style="italic">x</tspan> + 0.5)]</text>
<line x1="91" y1="114.09" x2="91" y2="161.90" stroke="#333" stroke-width="1"/>
<path d="M91,113.89 l-1.6,5.5 l3.2,0 z" fill="#000"/>
<path d="M91,162.10 l-1.6,-5.5 l3.2,0 z" fill="#000"/>
<text x="75.6" y="140.6" font-size="12.6" font-style="italic">A</text><text x="83.3" y="144.8" font-size="8.3">s</text>
<text x="200.6" y="144.6" font-size="12.6">0.13</text>
<line x1="202.4" y1="146.3" x2="189.8" y2="158.8" stroke="#000" stroke-width="1"/>
<text x="166.5" y="204.9" font-size="12" font-style="italic">d</text>
<text x="206.4" y="204.9" font-size="12" font-style="italic">d</text>
<line x1="172" y1="207.7" x2="186.3" y2="220.6" stroke="#000" stroke-width="1.1"/>
<line x1="208.8" y1="207.2" x2="194.5" y2="220.6" stroke="#000" stroke-width="1.1"/>
<line x1="104" y1="90" x2="114" y2="90" stroke="#c8292d" stroke-width="1.3" opacity="0.8"/>
<path d="M98.8,90 l6.5,-2 l0,4 z" fill="#c8292d"/>
<circle cx="118.2" cy="89.9" r="3.8" fill="none" stroke="#9c3033" stroke-width="1.1" stroke-dasharray="4.417,1.552" stroke-dashoffset="2.209"/>
<line x1="241.5" y1="200.3" x2="252" y2="200.3" stroke="#24449a" stroke-width="1.3"/>
<line x1="241.5" y1="198.3" x2="241.5" y2="202.3" stroke="#24449a" stroke-width="1"/>
<path d="M257.6,200.3 l-6,-2 l0,4 z" fill="#24449a"/>
<circle cx="237.7" cy="200.3" r="4.3" fill="none" stroke="#24449a" stroke-width="1.1" stroke-dasharray="4.863,1.891" stroke-dashoffset="2.432"/>
<g clip-path="url(#cb)">
<path d="M507.41,32.61h3.7v3.7h-3.7z M531.08,59.88h3.7v3.7h-3.7z M544.93,61.52h3.7v3.7h-3.7z M554.75,63.96h3.7v3.7h-3.7z M562.37,67.43h3.7v3.7h-3.7z M568.60,72.41h3.7v3.7h-3.7z M573.86,80.35h3.7v3.7h-3.7z M578.42,103.53h3.7v3.7h-3.7z M582.44,88.08h3.7v3.7h-3.7z M586.04,83.81h3.7v3.7h-3.7z M589.30,84.01h3.7v3.7h-3.7z M592.27,87.15h3.7v3.7h-3.7z M595.00,94.50h3.7v3.7h-3.7z M597.53,124.89h3.7v3.7h-3.7z M599.89,96.46h3.7v3.7h-3.7z M602.09,92.69h3.7v3.7h-3.7z M604.16,92.93h3.7v3.7h-3.7z M606.11,96.34h3.7v3.7h-3.7z M607.96,105.39h3.7v3.7h-3.7z M609.71,113.43h3.7v3.7h-3.7z M611.38,101.22h3.7v3.7h-3.7z M612.97,98.52h3.7v3.7h-3.7z M614.48,99.36h3.7v3.7h-3.7z M615.94,103.67h3.7v3.7h-3.7z M617.33,116.84h3.7v3.7h-3.7z M618.67,112.26h3.7v3.7h-3.7z M619.96,104.68h3.7v3.7h-3.7z M621.20,103.04h3.7v3.7h-3.7z M622.40,104.68h3.7v3.7h-3.7z M623.56,110.41h3.7v3.7h-3.7z M624.68,141.17h3.7v3.7h-3.7z M625.76,112.62h3.7v3.7h-3.7z M626.81,107.56h3.7v3.7h-3.7z M627.83,106.91h3.7v3.7h-3.7z M628.82,109.52h3.7v3.7h-3.7z M629.78,117.49h3.7v3.7h-3.7z M630.72,127.66h3.7v3.7h-3.7z M631.63,113.51h3.7v3.7h-3.7z M632.52,110.16h3.7v3.7h-3.7z M633.38,110.47h3.7v3.7h-3.7z M634.22,114.26h3.7v3.7h-3.7z M635.05,126.41h3.7v3.7h-3.7z M635.85,122.90h3.7v3.7h-3.7z M636.64,114.66h3.7v3.7h-3.7z M637.40,112.63h3.7v3.7h-3.7z M638.15,113.92h3.7v3.7h-3.7z M638.89,119.28h3.7v3.7h-3.7z M639.61,146.51h3.7v3.7h-3.7z M640.31,121.39h3.7v3.7h-3.7z M641.00,115.99h3.7v3.7h-3.7z M641.68,115.08h3.7v3.7h-3.7z M642.34,117.44h3.7v3.7h-3.7z M642.99,125.11h3.7v3.7h-3.7z M643.63,135.73h3.7v3.7h-3.7z M644.26,121.03h3.7v3.7h-3.7z M644.87,117.47h3.7v3.7h-3.7z M645.48,117.60h3.7v3.7h-3.7z M646.07,121.21h3.7v3.7h-3.7z M646.65,133.08h3.7v3.7h-3.7z M647.23,129.72h3.7v3.7h-3.7z M647.79,121.27h3.7v3.7h-3.7z M648.35,119.10h3.7v3.7h-3.7z M648.89,120.25h3.7v3.7h-3.7z M649.43,125.47h3.7v3.7h-3.7z M649.96,152.17h3.7v3.7h-3.7z M650.48,127.42h3.7v3.7h-3.7z M651.00,121.90h3.7v3.7h-3.7z M651.50,120.88h3.7v3.7h-3.7z M652.00,123.14h3.7v3.7h-3.7z M652.49,130.71h3.7v3.7h-3.7z M652.98,141.25h3.7v3.7h-3.7z M653.45,126.46h3.7v3.7h-3.7z M653.92,122.81h3.7v3.7h-3.7z M654.39,122.86h3.7v3.7h-3.7z M654.85,126.39h3.7v3.7h-3.7z M655.30,138.22h3.7v3.7h-3.7z M655.75,134.72h3.7v3.7h-3.7z M656.19,126.21h3.7v3.7h-3.7z M656.62,123.97h3.7v3.7h-3.7z M657.05,125.07h3.7v3.7h-3.7z M657.48,130.24h3.7v3.7h-3.7z M657.89,157.32h3.7v3.7h-3.7z M658.31,132.00h3.7v3.7h-3.7z M658.72,126.44h3.7v3.7h-3.7z M659.12,125.38h3.7v3.7h-3.7z M659.52,127.59h3.7v3.7h-3.7z M659.92,135.15h3.7v3.7h-3.7z M660.31,145.40h3.7v3.7h-3.7z M660.69,130.69h3.7v3.7h-3.7z M661.07,127.02h3.7v3.7h-3.7z M661.45,127.03h3.7v3.7h-3.7z M661.82,130.54h3.7v3.7h-3.7z M662.19,142.43h3.7v3.7h-3.7z M662.56,138.64h3.7v3.7h-3.7z M662.92,130.16h3.7v3.7h-3.7z M663.28,127.90h3.7v3.7h-3.7z M663.63,128.96h3.7v3.7h-3.7z M663.98,134.13h3.7v3.7h-3.7z M664.33,162.10h3.7v3.7h-3.7z M664.67,135.69h3.7v3.7h-3.7z M665.01,130.13h3.7v3.7h-3.7z M665.35,129.05h3.7v3.7h-3.7z M665.68,131.25h3.7v3.7h-3.7z M666.01,138.83h3.7v3.7h-3.7z M666.34,148.68h3.7v3.7h-3.7z M666.66,134.17h3.7v3.7h-3.7z M666.98,130.49h3.7v3.7h-3.7z M667.30,130.49h3.7v3.7h-3.7z M667.61,134.00h3.7v3.7h-3.7z M667.93,146.01h3.7v3.7h-3.7z M668.23,141.86h3.7v3.7h-3.7z M668.54,133.44h3.7v3.7h-3.7z M668.84,131.17h3.7v3.7h-3.7z M669.15,132.24h3.7v3.7h-3.7z M669.44,137.42h3.7v3.7h-3.7z M669.74,166.71h3.7v3.7h-3.7z M670.03,138.77h3.7v3.7h-3.7z M670.32,133.24h3.7v3.7h-3.7z M670.61,132.16h3.7v3.7h-3.7z M670.90,134.36h3.7v3.7h-3.7z M671.18,142.00h3.7v3.7h-3.7z M671.46,151.39h3.7v3.7h-3.7z M671.74,137.10h3.7v3.7h-3.7z M672.02,133.44h3.7v3.7h-3.7z M672.29,133.44h3.7v3.7h-3.7z M672.56,136.97h3.7v3.7h-3.7z M672.83,149.13h3.7v3.7h-3.7z M673.10,144.59h3.7v3.7h-3.7z M673.37,136.24h3.7v3.7h-3.7z M673.63,133.99h3.7v3.7h-3.7z M673.89,135.06h3.7v3.7h-3.7z M674.15,140.28h3.7v3.7h-3.7z M674.41,171.34h3.7v3.7h-3.7z M674.67,141.41h3.7v3.7h-3.7z M674.92,135.92h3.7v3.7h-3.7z M675.17,134.85h3.7v3.7h-3.7z M675.42,137.07h3.7v3.7h-3.7z M675.67,144.77h3.7v3.7h-3.7z M675.92,153.67h3.7v3.7h-3.7z M676.16,139.65h3.7v3.7h-3.7z M676.40,136.01h3.7v3.7h-3.7z M676.65,136.03h3.7v3.7h-3.7z M676.88,139.57h3.7v3.7h-3.7z M677.12,151.92h3.7v3.7h-3.7z M677.36,146.94h3.7v3.7h-3.7z M677.59,138.69h3.7v3.7h-3.7z M677.83,136.46h3.7v3.7h-3.7z M678.06,137.54h3.7v3.7h-3.7z M678.29,142.80h3.7v3.7h-3.7z M678.52,176.29h3.7v3.7h-3.7z M678.74,143.72h3.7v3.7h-3.7z M678.97,138.28h3.7v3.7h-3.7z M679.19,137.23h3.7v3.7h-3.7z M679.42,139.46h3.7v3.7h-3.7z M679.64,147.25h3.7v3.7h-3.7z M679.86,155.65h3.7v3.7h-3.7z M680.07,141.89h3.7v3.7h-3.7z M680.29,138.29h3.7v3.7h-3.7z M680.51,138.32h3.7v3.7h-3.7z M680.72,141.90h3.7v3.7h-3.7z M680.93,154.45h3.7v3.7h-3.7z M681.15,149.02h3.7v3.7h-3.7z M681.36,140.86h3.7v3.7h-3.7z M681.56,138.65h3.7v3.7h-3.7z M681.77,139.76h3.7v3.7h-3.7z M681.98,145.07h3.7v3.7h-3.7z M682.18,182.02h3.7v3.7h-3.7z M682.39,145.76h3.7v3.7h-3.7z M682.59,140.38h3.7v3.7h-3.7z M682.79,139.35h3.7v3.7h-3.7z M682.99,141.62h3.7v3.7h-3.7z M683.19,149.50h3.7v3.7h-3.7z M683.39,157.38h3.7v3.7h-3.7z M683.59,143.89h3.7v3.7h-3.7z M683.78,140.33h3.7v3.7h-3.7z M683.98,140.38h3.7v3.7h-3.7z M684.17,144.00h3.7v3.7h-3.7z M684.36,156.78h3.7v3.7h-3.7z M684.55,150.86h3.7v3.7h-3.7z M684.74,142.81h3.7v3.7h-3.7z M684.93,140.63h3.7v3.7h-3.7z M685.12,141.77h3.7v3.7h-3.7z M685.31,147.13h3.7v3.7h-3.7z M685.49,189.82h3.7v3.7h-3.7z M685.68,147.60h3.7v3.7h-3.7z M685.86,142.28h3.7v3.7h-3.7z M686.05,141.28h3.7v3.7h-3.7z M686.23,143.57h3.7v3.7h-3.7z M686.41,151.55h3.7v3.7h-3.7z M686.59,158.92h3.7v3.7h-3.7z M686.77,145.70h3.7v3.7h-3.7z M686.95,142.18h3.7v3.7h-3.7z M687.12,142.25h3.7v3.7h-3.7z M687.30,145.91h3.7v3.7h-3.7z M687.48,158.94h3.7v3.7h-3.7z M687.65,152.52h3.7v3.7h-3.7z M687.82,144.58h3.7v3.7h-3.7z M688.00,142.43h3.7v3.7h-3.7z M688.17,143.59h3.7v3.7h-3.7z M688.34,149.02h3.7v3.7h-3.7z M688.51,208.19h3.7v3.7h-3.7z M688.68,149.27h3.7v3.7h-3.7z M688.85,144.01h3.7v3.7h-3.7z M689.02,143.03h3.7v3.7h-3.7z M689.18,145.36h3.7v3.7h-3.7z M689.35,153.45h3.7v3.7h-3.7z M689.52,160.30h3.7v3.7h-3.7z M689.68,147.35h3.7v3.7h-3.7z M689.84,143.87h3.7v3.7h-3.7z M690.01,143.97h3.7v3.7h-3.7z M690.17,147.67h3.7v3.7h-3.7z M690.33,160.96h3.7v3.7h-3.7z M690.49,154.03h3.7v3.7h-3.7z M690.65,146.20h3.7v3.7h-3.7z M690.81,144.09h3.7v3.7h-3.7z M690.97,145.28h3.7v3.7h-3.7z M691.13,150.77h3.7v3.7h-3.7z M691.28,197.89h3.7v3.7h-3.7z M691.44,150.79h3.7v3.7h-3.7z M691.60,145.60h3.7v3.7h-3.7z M691.75,144.65h3.7v3.7h-3.7z M691.90,147.01h3.7v3.7h-3.7z M692.06,155.21h3.7v3.7h-3.7z M692.21,161.55h3.7v3.7h-3.7z M692.36,148.86h3.7v3.7h-3.7z M692.51,145.42h3.7v3.7h-3.7z M692.67,145.56h3.7v3.7h-3.7z M692.82,149.30h3.7v3.7h-3.7z M692.96,162.87h3.7v3.7h-3.7z M693.11,155.41h3.7v3.7h-3.7z M693.26,147.69h3.7v3.7h-3.7z M693.41,145.61h3.7v3.7h-3.7z M693.56,146.84h3.7v3.7h-3.7z M693.70,152.39h3.7v3.7h-3.7z M693.85,190.91h3.7v3.7h-3.7z M693.99,152.20h3.7v3.7h-3.7z M694.14,147.06h3.7v3.7h-3.7z M694.28,146.15h3.7v3.7h-3.7z M694.42,148.55h3.7v3.7h-3.7z M694.57,156.87h3.7v3.7h-3.7z M694.71,162.69h3.7v3.7h-3.7z M694.85,150.25h3.7v3.7h-3.7z M694.99,146.86h3.7v3.7h-3.7z M695.13,147.03h3.7v3.7h-3.7z M695.27,150.82h3.7v3.7h-3.7z M695.41,164.69h3.7v3.7h-3.7z M695.55,156.69h3.7v3.7h-3.7z M695.69,149.07h3.7v3.7h-3.7z M695.82,147.03h3.7v3.7h-3.7z M695.96,148.29h3.7v3.7h-3.7z M696.10,153.91h3.7v3.7h-3.7z M696.23,187.74h3.7v3.7h-3.7z M696.37,153.49h3.7v3.7h-3.7z M696.50,148.43h3.7v3.7h-3.7z M696.64,147.55h3.7v3.7h-3.7z M696.77,149.98h3.7v3.7h-3.7z M696.90,158.42h3.7v3.7h-3.7z M697.04,163.74h3.7v3.7h-3.7z M697.17,151.55h3.7v3.7h-3.7z M697.30,148.21h3.7v3.7h-3.7z M697.43,148.41h3.7v3.7h-3.7z M697.56,152.25h3.7v3.7h-3.7z M697.69,166.43h3.7v3.7h-3.7z M697.82,157.86h3.7v3.7h-3.7z M697.95,150.36h3.7v3.7h-3.7z M698.08,148.36h3.7v3.7h-3.7z M698.21,149.65h3.7v3.7h-3.7z M698.34,155.35h3.7v3.7h-3.7z M698.46,185.89h3.7v3.7h-3.7z M698.59,154.70h3.7v3.7h-3.7z M698.72,149.70h3.7v3.7h-3.7z M698.84,148.85h3.7v3.7h-3.7z M698.97,151.33h3.7v3.7h-3.7z M699.09,159.90h3.7v3.7h-3.7z M699.22,164.71h3.7v3.7h-3.7z M699.34,152.76h3.7v3.7h-3.7z M699.46,149.47h3.7v3.7h-3.7z M699.59,149.70h3.7v3.7h-3.7z M699.71,153.59h3.7v3.7h-3.7z M699.83,168.11h3.7v3.7h-3.7z M699.95,158.96h3.7v3.7h-3.7z M700.07,151.56h3.7v3.7h-3.7z M700.19,149.60h3.7v3.7h-3.7z M700.32,150.93h3.7v3.7h-3.7z M700.44,156.70h3.7v3.7h-3.7z M700.55,184.71h3.7v3.7h-3.7z M700.67,155.83h3.7v3.7h-3.7z M700.79,150.89h3.7v3.7h-3.7z M700.91,150.08h3.7v3.7h-3.7z M701.03,152.60h3.7v3.7h-3.7z M701.15,161.30h3.7v3.7h-3.7z M701.26,165.61h3.7v3.7h-3.7z M701.38,153.89h3.7v3.7h-3.7z M701.50,150.65h3.7v3.7h-3.7z M701.61,150.91h3.7v3.7h-3.7z M701.73,154.86h3.7v3.7h-3.7z M701.84,169.74h3.7v3.7h-3.7z M701.96,159.99h3.7v3.7h-3.7z M702.07,152.69h3.7v3.7h-3.7z M702.19,150.77h3.7v3.7h-3.7z M702.30,152.13h3.7v3.7h-3.7z M702.41,157.98h3.7v3.7h-3.7z M702.53,183.92h3.7v3.7h-3.7z M702.64,156.88h3.7v3.7h-3.7z M702.75,152.02h3.7v3.7h-3.7z M702.86,151.24h3.7v3.7h-3.7z M702.97,153.80h3.7v3.7h-3.7z M703.09,162.64h3.7v3.7h-3.7z M703.20,166.45h3.7v3.7h-3.7z M703.31,154.96h3.7v3.7h-3.7z M703.42,151.76h3.7v3.7h-3.7z M703.53,152.06h3.7v3.7h-3.7z M703.64,156.07h3.7v3.7h-3.7z M703.74,171.32h3.7v3.7h-3.7z M703.85,160.95h3.7v3.7h-3.7z M703.96,153.76h3.7v3.7h-3.7z M704.07,151.88h3.7v3.7h-3.7z M704.18,153.28h3.7v3.7h-3.7z M704.28,159.21h3.7v3.7h-3.7z M704.39,183.37h3.7v3.7h-3.7z M704.50,157.88h3.7v3.7h-3.7z M704.60,153.08h3.7v3.7h-3.7z M704.71,152.34h3.7v3.7h-3.7z M704.82,154.94h3.7v3.7h-3.7z M704.92,163.92h3.7v3.7h-3.7z M705.03,167.24h3.7v3.7h-3.7z M705.13,155.97h3.7v3.7h-3.7z M705.23,152.82h3.7v3.7h-3.7z M705.34,153.16h3.7v3.7h-3.7z" fill="#d3282a"/>
</g>
<rect x="507.36" y="32.56" width="3.8" height="3.8" fill="none" stroke="#2a0c0c" stroke-width="0.9"/>
<rect x="446.5" y="10.45" width="259.20000000000005" height="210.65" fill="none" stroke="#000" stroke-width="2"/>
<path d="M446.5,221.10 L443.70,221.10 M446.5,197.92 L442.30,197.92 M446.5,174.74 L443.70,174.74 M446.5,151.56 L442.30,151.56 M446.5,128.38 L443.70,128.38 M446.5,105.20 L442.30,105.20 M446.5,82.02 L443.70,82.02 M446.5,58.84 L442.30,58.84 M446.5,35.66 L443.70,35.66 M446.5,12.48 L442.30,12.48 M446.50,221.1 L446.50,225.29999999999998 M470.17,221.1 L470.17,223.7 M484.02,221.1 L484.02,223.7 M493.84,221.1 L493.84,223.7 M501.46,221.1 L501.46,223.7 M507.69,221.1 L507.69,223.7 M512.95,221.1 L512.95,223.7 M517.51,221.1 L517.51,223.7 M521.53,221.1 L521.53,223.7 M525.13,221.1 L525.13,225.29999999999998 M548.80,221.1 L548.80,223.7 M562.65,221.1 L562.65,223.7 M572.47,221.1 L572.47,223.7 M580.09,221.1 L580.09,223.7 M586.32,221.1 L586.32,223.7 M591.58,221.1 L591.58,223.7 M596.14,221.1 L596.14,223.7 M600.16,221.1 L600.16,223.7 M603.76,221.1 L603.76,225.29999999999998 M627.43,221.1 L627.43,223.7 M641.28,221.1 L641.28,223.7 M651.10,221.1 L651.10,223.7 M658.72,221.1 L658.72,223.7 M664.95,221.1 L664.95,223.7 M670.21,221.1 L670.21,223.7 M674.77,221.1 L674.77,223.7 M678.79,221.1 L678.79,223.7 M682.39,221.1 L682.39,225.29999999999998 M706.06,221.1 L706.06,223.7" stroke="#000" stroke-width="1.6" fill="none"/>
<text x="436.5" y="17.48" font-size="14" text-anchor="end">10<tspan font-size="9.5" dy="-6.6">5</tspan></text>
<text x="436.5" y="63.84" font-size="14" text-anchor="end">10<tspan font-size="9.5" dy="-6.6">3</tspan></text>
<text x="436.5" y="110.20" font-size="14" text-anchor="end">10<tspan font-size="9.5" dy="-6.6">1</tspan></text>
<text x="436.5" y="156.56" font-size="14" text-anchor="end">10<tspan font-size="9.5" dy="-6.6">−1</tspan></text>
<text x="436.5" y="202.92" font-size="14" text-anchor="end">10<tspan font-size="9.5" dy="-6.6">−3</tspan></text>
<text x="446.50" y="242.8" font-size="14" text-anchor="middle">1</text>
<text x="525.13" y="242.8" font-size="14" text-anchor="middle">10</text>
<text x="603.76" y="242.8" font-size="14" text-anchor="middle">100</text>
<text x="682.39" y="242.8" font-size="14" text-anchor="middle">1000</text>
<text x="571.5" y="260" font-size="14" font-style="italic" text-anchor="middle">k</text>
<text transform="translate(397.6,115.8) rotate(-90)" font-size="14.4" text-anchor="middle">Amplitude</text>
<text x="387.4" y="15.4" font-size="20" font-weight="bold">b</text>
<rect x="462.5" y="174.3" width="3.6" height="3.6" fill="#d3282a"/>
<rect x="462.3" y="196" width="4" height="4" fill="none" stroke="#222" stroke-width="1"/>
<text x="472.3" y="180.8" font-size="12" word-spacing="0.7">FT[(<tspan font-style="italic">A</tspan><tspan font-size="8.5" dx="0.6" dy="4.8">s</tspan><tspan dy="-4.8"> + cos </tspan><tspan font-style="italic">2</tspan><tspan font-family="Liberation Serif" font-size="13" dx="0.8">π</tspan><tspan dx="-0.5"> (</tspan><tspan font-style="italic">x</tspan> + 0.5))e<tspan font-size="8" dx="1" dy="-5.5" fill="#333">i<tspan font-style="italic">ϕ</tspan>(<tspan font-style="italic">x</tspan>)</tspan><tspan dy="5.5">]</tspan></text>
<text x="472.3" y="202" font-size="12" word-spacing="0.7">FT[<tspan font-style="italic">A</tspan><tspan font-size="8.5" dx="0.6" dy="4.8">s</tspan><tspan dy="-4.8"> + cos </tspan><tspan font-style="italic">2</tspan><tspan font-family="Liberation Serif" font-size="13" dx="0.8">π</tspan><tspan dx="-0.5"> (</tspan><tspan font-style="italic">x</tspan> + 0.5)]</text>
</svg></body></html>
